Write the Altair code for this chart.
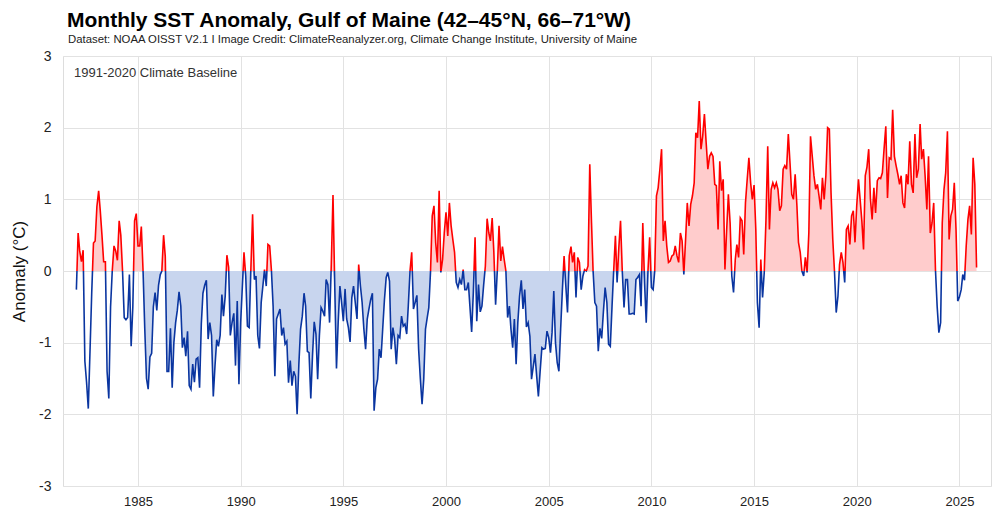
import altair as alt
import pandas as pd

# Monthly SST anomaly (°C), Gulf of Maine, starting January 1982
anom_1980s = [
    -0.26, 0.53, 0.28, 0.13, 0.29, -1.26, -1.55, -1.92, -1.1, -0.3, 0.39, 0.42,   # 1982
    0.9, 1.12, 0.85, 0.5, 0.13, 0.13, -1.4, -1.78, -0.5, 0.0, 0.35, 0.28,          # 1983
    0.15, 0.7, 0.5, 0.0, -0.65, -0.68, -0.65, -0.05, -1.05, -0.5, 0.7, 0.8,        # 1984
    0.35, 0.35, 0.62, 0.0, -0.8, -1.5, -1.65, -1.2, -1.15, -0.5, -0.3, -0.55,      # 1985
    -0.2, -0.05, 0.0, 0.5, 0.2, -1.4, -1.4, -0.8, -1.63, -1.0, -0.72, -0.55,       # 1986
    -0.29, -0.49, -1.07, -0.93, -1.19, -0.84, -1.6, -1.65, -1.3, -1.55, -1.23, -1.21,  # 1987
    -1.63, -0.74, -0.31, -0.2, -0.13, -0.95, -0.72, -0.9, -1.75, -1.33, -0.96, -1.05,  # 1988
    -0.9, -0.33, -0.63, -0.35, 0.22, 0.05, -0.9, -0.72, -0.59, -1.32, -0.42, -1.58,    # 1989
]
anom_1990s = [
    -0.72, -0.2, 0.26, -0.07, -0.77, -0.79, 0.02, 0.79, -0.12, -0.07, -0.9, -1.08,     # 1990
    -0.44, -0.2, 0.02, -0.21, 0.37, 0.35, 0.02, -0.49, -1.47, -0.67, -0.6, -0.53,      # 1991
    -0.9, -0.79, -1.02, -0.98, -1.56, -1.25, -1.6, -1.4, -1.47, -2.0, -1.3, -0.81,     # 1992
    -0.63, -0.31, -0.49, -1.12, -1.14, -1.78, -1.19, -0.71, -0.88, -1.51, -0.9, -0.51, # 1993
    -0.56, -0.63, -0.12, -0.19, -0.72, 0.1, 1.06, -0.2, -1.36, -0.72, -0.21, -0.44,    # 1994
    -0.7, -0.25, -0.67, -0.79, -0.99, -0.37, -0.21, -0.44, -0.67, 0.09, -0.21, -0.44,  # 1995
    -0.81, -1.09, -0.67, -0.53, -0.4, -0.31, -1.95, -1.63, -1.51, -1.09, -1.21, -0.81, # 1996
    -0.4, -0.09, -0.02, -0.14, -1.09, -0.79, -0.95, -1.3, -0.9, -0.93, -0.63, -0.77,   # 1997
    -0.74, -0.88, -0.49, 0.0, 0.26, -0.53, -0.44, -0.34, -1.09, -1.5, -1.86, -1.51,    # 1998
    -0.81, -0.65, -0.51, 0.0, 0.77, 0.91, 0.4, 0.12, 1.12, -0.02, 0.16, 0.53,          # 1999
]
anom_2000s = [
    0.82, 0.49, 0.95, 0.63, 0.44, 0.26, -0.16, -0.23, -0.12, -0.19, 0.02, -0.26,       # 2000
    -0.26, -0.16, -0.49, -0.85, -0.3, 0.47, -0.7, -0.19, -0.57, -0.49, -0.19, 0.07,    # 2001
    0.73, 0.53, 0.42, 0.74, 0.26, -0.47, 0.0, 0.63, 0.14, 0.34, 0.16, 0.0,             # 2002
    -0.65, -0.49, -0.81, -1.07, -0.67, -1.3, -0.72, -0.35, -0.13, -0.53, -0.26, -0.78, # 2003
    -0.72, -0.91, -1.51, -1.33, -1.16, -1.47, -1.75, -1.4, -1.07, -1.09, -1.08, -0.84, # 2004
    -0.93, -1.14, -0.86, -0.28, -1.0, -1.28, -1.4, -0.81, -0.26, 0.21, -0.21, -0.58,   # 2005
    0.21, 0.34, 0.12, 0.26, -0.37, 0.19, 0.12, -0.26, -0.07, 0.02, 0.0, 0.07,          # 2006
    1.49, 0.67, 0.0, -0.44, -0.49, -1.12, -0.8, -0.94, -0.56, -0.23, -0.44, -1.02,     # 2007
    -1.05, -0.49, 0.0, 0.49, -0.16, 0.33, 0.7, 0.0, -0.51, -0.12, -0.12, -0.6,         # 2008
    -0.6, -0.59, -0.6, -0.12, -0.09, -0.05, -0.49, 0.67, -0.16, -0.72, 0.0, 0.47,      # 2009
]
anom_2010s = [
    -0.23, -0.26, 0.0, 1.05, 1.16, 1.42, 1.7, 0.42, 0.7, 0.35, 0.12, 0.14,             # 2010
    0.21, 0.23, 0.35, 0.21, 0.12, 0.53, 0.42, -0.05, 0.44, 0.95, 0.63, 0.93,           # 2011
    1.05, 1.23, 1.93, 1.86, 2.37, 1.7, 1.88, 2.19, 1.79, 1.42, 1.6, 1.65,              # 2012
    1.6, 1.21, 1.19, 0.58, 1.53, 1.12, 1.28, 0.02, 0.58, 1.07, 0.67, -0.07,            # 2013
    -0.3, 0.16, 0.37, 0.19, 0.74, 0.7, 0.23, 0.95, 1.28, 1.58, 1.23, 1.0,              # 2014
    1.2, 0.58, -0.44, -0.79, 0.16, -0.37, -0.02, 0.72, 1.74, 0.58, 1.14, 1.23,         # 2015
    1.16, 1.23, 1.14, 0.84, 0.91, 1.42, 1.47, 1.42, 1.91, 1.51, 1.07, 1.0,             # 2016
    1.35, 0.91, 0.4, 0.26, 0.0, -0.07, 0.19, -0.02, 0.53, 1.88, 1.6, 1.33,             # 2017
    1.14, 1.21, 1.05, 0.86, 1.3, 1.0, 1.33, 2.0, 1.98, 1.09, 0.44, 0.0,                # 2018
    -0.58, -0.35, 0.09, 0.26, 0.12, -0.16, 0.58, 0.63, 0.37, 0.77, 0.84, 0.4,          # 2019
]
anom_2020s = [
    0.91, 1.28, 1.0, 0.7, 0.3, 1.33, 1.45, 1.7, 1.0, 0.72, 1.16, 0.81,                 # 2020
    1.26, 1.3, 1.29, 1.37, 1.7, 2.02, 1.02, 1.58, 1.56, 2.25, 1.6, 1.47,               # 2021
    1.35, 1.21, 1.33, 0.95, 0.88, 1.35, 1.21, 1.81, 1.21, 1.09, 1.91, 1.3,             # 2022
    1.42, 2.05, 1.56, 1.7, 1.33, 0.86, 1.6, 0.53, 0.67, 0.95, 0.02, -0.49,             # 2023
    -0.86, -0.72, 0.67, 1.14, 1.37, 1.95, 0.44, 0.77, 0.86, 1.23, 0.58, -0.42,         # 2024
    -0.36, -0.26, -0.05, -0.13, 0.35, 0.72, 0.91, 0.51, 1.58, 1.21, 0.05,              # 2025
]

start_month = "1982-01-01"
# stretches in which the picture shades the below-zero part in blue
cold_periods = [("1985-04-01", "1999-04-01"), ("2000-06-01", "2010-03-01")]
x_ticks = [1985, 1990, 1995, 2000, 2005, 2010, 2015, 2020, 2025]
y_ticks = [3, 2, 1, 0, -1, -2, -3]

title_text = "Monthly SST Anomaly, Gulf of Maine (42–45°N, 66–71°W)"
subtitle_text = ("Dataset: NOAA OISST V2.1 I Image Credit: ClimateReanalyzer.org, "
                 "Climate Change Institute, University of Maine")
baseline_text = "1991-2020 Climate Baseline"

values = anom_1980s + anom_1990s + anom_2000s + anom_2010s + anom_2020s
dates = pd.date_range(start_month, periods=len(values), freq="MS")
df = pd.DataFrame({"date": dates.strftime("%Y/%m/%d"), "anom": values})

cold_parts = []
for i, (a, b) in enumerate(cold_periods):
    m = (dates >= pd.Timestamp(a)) & (dates <= pd.Timestamp(b))
    part = pd.DataFrame({"date": dates[m].strftime("%Y/%m/%d"),
                         "neg": [min(v, 0.0) for v, k in zip(values, m) if k],
                         "period": i})
    cold_parts.append(part)
df_cold = pd.concat(cold_parts, ignore_index=True)

# hard colour switch at zero, as a fraction of the series' vertical extent
vmax, vmin = max(values), min(values)
off = vmax / (vmax - vmin)

FONT = "Liberation Sans"
W, H = 928, 430

x_enc = alt.X(
    "date:T",
    scale=alt.Scale(domain=[alt.DateTime(year=1981, month=5, date=8),
                            alt.DateTime(year=2026, month=7, date=16)]),
    axis=alt.Axis(
        values=[alt.DateTime(year=y, month=1, date=1) for y in x_ticks],
        format="%Y", title=None, ticks=False, domain=False,
        grid=True, gridColor="#e2e2e2", gridWidth=1,
        labelFontSize=13, labelColor="#222", labelPadding=9, labelFont=FONT,
    ),
)
y_scale = alt.Scale(domain=[-3, 3], nice=False, zero=False)
y_axis = alt.Axis(
    values=y_ticks, labelExpr="datum.value", ticks=False, domain=False,
    grid=True, gridColor="#e2e2e2", gridWidth=1,
    labelFontSize=14, labelColor="#222", labelPadding=12, labelFont=FONT,
    title="Anomaly (°C)", titleFontSize=17, titleFontWeight="normal",
    titleColor="#111", titleFont=FONT, titleX=-44, titleY=H / 2,
    titleAngle=-90, titleAlign="center", titleBaseline="middle",
)
y_enc = alt.Y("anom:Q", scale=y_scale, axis=y_axis)
y_neg = alt.Y("neg:Q", scale=y_scale, axis=y_axis)

pink_grad = alt.Gradient(
    gradient="linear", x1=0, x2=0, y1=0, y2=1,
    stops=[alt.GradientStop(offset=0, color="#ffcccc"),
           alt.GradientStop(offset=off, color="#ffcccc"),
           alt.GradientStop(offset=off, color="rgba(255,255,255,0)"),
           alt.GradientStop(offset=1, color="rgba(255,255,255,0)")],
)
line_grad = alt.Gradient(
    gradient="linear", x1=0, x2=0, y1=0, y2=1,
    stops=[alt.GradientStop(offset=0, color="#ff0000"),
           alt.GradientStop(offset=off, color="#ff0000"),
           alt.GradientStop(offset=off, color="#0a35a0"),
           alt.GradientStop(offset=1, color="#0a35a0")],
)

warm_area = alt.Chart(df).mark_area(fill=pink_grad, opacity=1).encode(
    x=x_enc, y=y_enc, y2=alt.datum(0))
cold_area = alt.Chart(df_cold).mark_area(color="#c8d5ee", opacity=1).encode(
    x=x_enc, y=y_neg, y2=alt.datum(0), detail="period:N")
line = alt.Chart(df).mark_line(stroke=line_grad, strokeWidth=1.6).encode(x=x_enc, y=y_enc)

texts = pd.DataFrame({"t": [baseline_text, title_text, subtitle_text]})
baseline_label = alt.Chart(texts).transform_filter(
    alt.datum.t == baseline_text
).mark_text(
    align="left", baseline="alphabetic", fontSize=13, font=FONT, color="#333"
).encode(text="t:N", x=alt.value(11), y=alt.value(21))
title_mark = alt.Chart(texts).transform_filter(
    alt.datum.t == title_text
).mark_text(
    align="left", baseline="alphabetic", fontSize=21, fontWeight="bold",
    font=FONT, color="#000"
).encode(text="t:N", x=alt.value(4), y=alt.value(-29))
subtitle_mark = alt.Chart(texts).transform_filter(
    alt.datum.t == subtitle_text
).mark_text(
    align="left", baseline="alphabetic", fontSize=11.35, font=FONT, color="#222"
).encode(text="t:N", x=alt.value(5), y=alt.value(-13))

chart = alt.layer(
    warm_area, cold_area, line, baseline_label, title_mark, subtitle_mark
).properties(
    width=W, height=H,
    padding={"left": 55, "top": 48, "right": 1, "bottom": 27},
    autosize=alt.AutoSizeParams(type="none"),
).configure_view(stroke="#9e9e9e", strokeWidth=1.6).configure(background="white")

chart.save("out.html", embed_options={"renderer": "svg", "actions": False})
